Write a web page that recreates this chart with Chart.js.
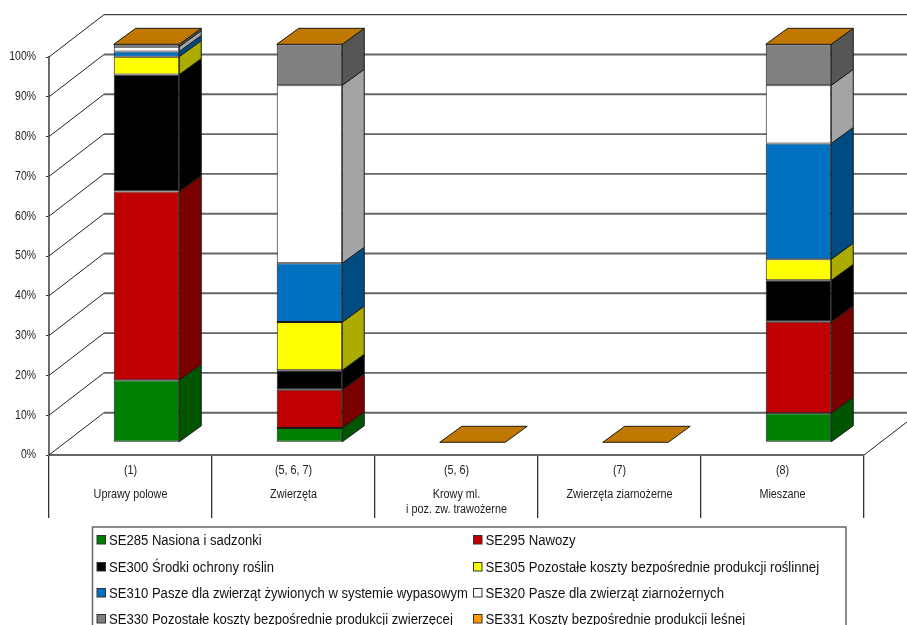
<!DOCTYPE html>
<html lang="pl">
<head>
<meta charset="utf-8">
<style>
html,body{margin:0;padding:0;background:#fff;overflow:hidden;width:907px;height:625px}
canvas{display:block;filter:blur(0.35px)}
</style>
<script src="https://cdn.jsdelivr.net/npm/chart.js@4"></script>
</head>
<body>
<canvas id="c" width="907" height="625"></canvas>
<script>
// ---- data ----
const categories = ["Uprawy polowe", "Zwierzęta", "Krowy ml.\ni poz. zw. trawożerne", "Zwierzęta ziarnożerne", "Mieszane"];
const codes = ["(1)", "(5, 6, 7)", "(5, 6)", "(7)", "(8)"];
const se285 = [15.6, 3.6, 0, 0, 7.3];
const se295 = [47.4, 9.6, 0, 0, 23.0];
const se300 = [29.4, 4.9, 0, 0, 10.4];
const se305 = [4.5, 12.1, 0, 0, 5.3];
const se310 = [1.3, 14.8, 0, 0, 29.1];
const se320 = [1.2, 44.7, 0, 0, 14.6];
const se330 = [0.6, 10.3, 0, 0, 10.3];
const se331 = [0, 0, 0, 0, 0];
const seriesNames = [
  "SE285 Nasiona i sadzonki", "SE295 Nawozy",
  "SE300 Środki ochrony roślin", "SE305 Pozostałe koszty bezpośrednie produkcji roślinnej",
  "SE310 Pasze dla zwierząt żywionych w systemie wypasowym", "SE320 Pasze dla zwierząt ziarnożernych",
  "SE330 Pozostałe koszty bezpośrednie produkcji zwierzęcej", "SE331 Koszty bezpośrednie produkcji leśnej"
];
const seriesValues = [se285, se295, se300, se305, se310, se320, se330, se331];
const frontColors = ["#008000", "#C00000", "#000000", "#FFFF00", "#0070C0", "#FFFFFF", "#808080", "#FF9900"];
const sideColors  = ["#005500", "#7A0000", "#000000", "#ABAB00", "#004C82", "#A4A4A4", "#565656", "#A86500"];
const topColor = "#C07800";

// ---- 3D geometry ----
const WALL_DX = 55, WALL_DY = 42.3;     // depth of the floor
const BAR_DX = 16, BAR_DY = 12.7;       // where the bars' front sits on the floor
const BAR_DEPTH_X = 22, BAR_DEPTH_Y = 16;
const FONT = '"Liberation Sans", Arial, sans-serif';
const INK = "#222";

function para(ctx, pts, fill, stroke) {
  ctx.beginPath();
  pts.forEach((p, i) => i ? ctx.lineTo(p[0], p[1]) : ctx.moveTo(p[0], p[1]));
  ctx.closePath();
  ctx.fillStyle = fill; ctx.fill();
  ctx.lineWidth = 1; ctx.strokeStyle = stroke; ctx.stroke();
}
function squeezed(ctx, text, x, y, sx) {
  ctx.save(); ctx.translate(x, y); ctx.scale(sx, 1); ctx.fillText(text, 0, 0); ctx.restore();
}

const walls = {
  id: "walls",
  beforeDatasetsDraw(chart) {
    const ctx = chart.ctx, yS = chart.scales.y, a = chart.chartArea;
    ctx.save();
    yS.ticks.forEach(t => {
      const y = yS.getPixelForValue(t.value);
      // side wall diagonal
      ctx.beginPath(); ctx.moveTo(a.left, y); ctx.lineTo(a.left + WALL_DX, y - WALL_DY);
      ctx.strokeStyle = "#222"; ctx.lineWidth = 1; ctx.stroke();
      // back wall line, running off the right of the page
      ctx.beginPath(); ctx.moveTo(a.left + WALL_DX, y - WALL_DY); ctx.lineTo(a.right + WALL_DX, y - WALL_DY);
      ctx.strokeStyle = t.value === 100 ? "#111" : "#666";
      ctx.lineWidth = t.value === 100 ? 1 : 1.9; ctx.stroke();
    });
    // right floor edge
    const y0 = yS.getPixelForValue(0);
    ctx.beginPath(); ctx.moveTo(a.right, y0); ctx.lineTo(a.right + WALL_DX, y0 - WALL_DY);
    ctx.strokeStyle = "#222"; ctx.lineWidth = 1; ctx.stroke();
    ctx.restore();
    // bars stand back from the front edge of the floor
    ctx.save();
    ctx.translate(BAR_DX, -BAR_DY);
  },
  afterDatasetsDraw(chart) {
    const ctx = chart.ctx;
    const n = chart.data.datasets.length;
    chart.data.datasets.forEach((ds, i) => {
      chart.getDatasetMeta(i).data.forEach(el => {
        const r = el.x + el.width / 2;
        if (Math.abs(el.base - el.y) < 0.01) return;
        para(ctx, [[r, el.y], [r + BAR_DEPTH_X, el.y - BAR_DEPTH_Y], [r + BAR_DEPTH_X, el.base - BAR_DEPTH_Y], [r, el.base]],
          sideColors[i], "#1a1a1a");
      });
    });
    chart.getDatasetMeta(n - 1).data.forEach(el => {
      const l = el.x - el.width / 2, r = el.x + el.width / 2;
      para(ctx, [[l, el.y], [r, el.y], [r + BAR_DEPTH_X, el.y - BAR_DEPTH_Y], [l + BAR_DEPTH_X, el.y - BAR_DEPTH_Y]],
        topColor, "#1a1a1a");
    });
    ctx.restore();
  }
};

const axisText = {
  id: "axisText",
  afterDraw(chart) {
    const ctx = chart.ctx, xS = chart.scales.x, yS = chart.scales.y;
    ctx.save();
    ctx.fillStyle = INK; ctx.textBaseline = "middle";
    ctx.font = "12px " + FONT;
    ctx.textAlign = "right";
    yS.ticks.forEach(t => squeezed(ctx, t.label, 36, yS.getPixelForValue(t.value), 0.87));
    ctx.textAlign = "center";
    categories.forEach((name, i) => {
      const x = xS.getPixelForTick(i);
      squeezed(ctx, codes[i], x, 471, 0.9);
      name.split("\n").forEach((line, j) => squeezed(ctx, line, x, 495 + j * 15, 0.9));
    });
    ctx.restore();
  }
};

const boxedLegend = {
  id: "boxedLegend",
  afterDraw(chart) {
    const ctx = chart.ctx;
    ctx.save();
    ctx.strokeStyle = "#666"; ctx.lineWidth = 1.5;
    ctx.strokeRect(92.5, 527, 753.5, 120);
    ctx.font = "14px " + FONT; ctx.textAlign = "left"; ctx.textBaseline = "middle";
    const rows = [541, 568, 594, 620], cols = [97, 473.5], squeeze = [0.934, 0.94];
    chart.data.datasets.forEach((ds, i) => {
      const x = cols[i % 2], y = rows[Math.floor(i / 2)];
      ctx.fillStyle = ds.backgroundColor; ctx.strokeStyle = "#333"; ctx.lineWidth = 1;
      ctx.fillRect(x, y - 5.5, 8.5, 8.5); ctx.strokeRect(x, y - 5.5, 8.5, 8.5);
      ctx.fillStyle = "#111";
      squeezed(ctx, ds.label, x + 12, y, squeeze[i % 2]);
    });
    ctx.restore();
  }
};

new Chart(document.getElementById("c"), {
  type: "bar",
  data: {
    labels: categories,
    datasets: seriesValues.map((values, i) => ({
      label: seriesNames[i],
      data: values,
      backgroundColor: frontColors[i],
      borderColor: "#1a1a1a",
      borderWidth: 1,
      borderSkipped: false,
      clip: false,
      barPercentage: 0.402,
      categoryPercentage: 1
    }))
  },
  options: {
    responsive: false,
    animation: false,
    devicePixelRatio: 1,
    layout: { padding: { top: 57, right: 43, left: 0, bottom: 0 } },
    plugins: { legend: { display: false }, tooltip: { enabled: false }, title: { display: false } },
    scales: {
      x: {
        stacked: true,
        afterFit(s) { s.height = 170; },
        border: { color: "#666", width: 1.9 },
        grid: { drawOnChartArea: false, drawTicks: true, tickLength: 63, color: "#333", lineWidth: 1.3, offset: true },
        ticks: { display: false, autoSkip: false }
      },
      y: {
        stacked: true,
        min: 0, max: 100,
        afterFit(s) { s.width = 49; },
        border: { color: "#666", width: 1.9 },
        grid: { drawOnChartArea: false, drawTicks: true, tickLength: 3, color: "#333" },
        ticks: { display: false, stepSize: 10, callback: v => v + "%" }
      }
    }
  },
  plugins: [walls, axisText, boxedLegend]
});
</script>
</body>
</html>
